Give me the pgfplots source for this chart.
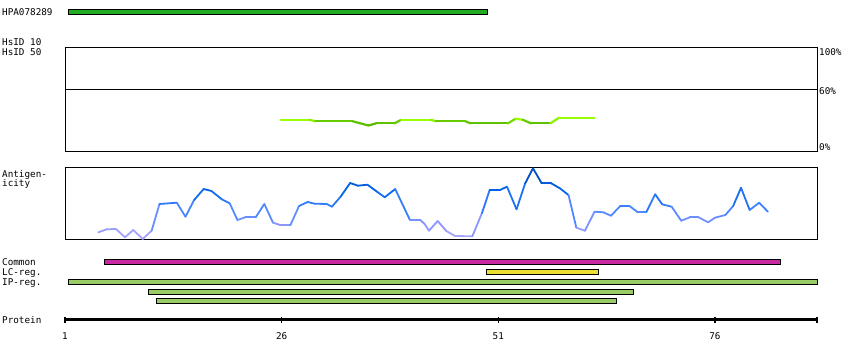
\documentclass[border=0pt]{standalone}
\usepackage{pgfplots}
\pgfplotsset{compat=1.18}
\usepackage{fontspec}
\setmainfont{DejaVu Sans Mono}
\newcommand\lbl{\fontsize{9.3bp}{11bp}\selectfont}
\definecolor{hpa}{RGB}{34,170,34}
\definecolor{common}{RGB}{200,40,160}
\definecolor{lcreg}{RGB}{238,221,51}
\definecolor{ipreg}{RGB}{153,204,102}
\pgfplotsset{
  colormap={hsid}{rgb255(25cm)=(85,180,0); rgb255(29.5cm)=(102,204,0); rgb255(30.5cm)=(153,255,0); rgb255(33cm)=(153,255,0)},
  colormap={antig}{rgb255(0cm)=(180,170,255); rgb255(15cm)=(140,150,255); rgb255(30cm)=(75,135,255); rgb255(50cm)=(0,100,235); rgb255(72cm)=(0,70,170)},
}
\begin{document}
\begin{tikzpicture}
\useasboundingbox (0bp,0bp) rectangle (850bp,360bp);
% ---------- main axis: bars and protein scale ----------
\begin{axis}[at={(65bp,0bp)}, anchor=south west, scale only axis,
  width=752bp, height=360bp, xmin=1, xmax=87.77, ymin=0, ymax=360,
  hide axis, clip=false]
  % HPA bar
  \addplot[fill=hpa, draw=black, line width=1bp] coordinates {(1.46,345.5)(49.7,345.5)(49.7,350.3)(1.46,350.3)} -- cycle;
  % Common
  \addplot[fill=common, draw=black, line width=1bp] coordinates {(5.5,95.7)(83.6,95.7)(83.6,100.5)(5.5,100.5)} -- cycle;
  % LC-reg
  \addplot[fill=lcreg, draw=black, line width=1bp] coordinates {(49.6,85.7)(62.6,85.7)(62.6,90.5)(49.6,90.5)} -- cycle;
  % IP-reg
  \addplot[fill=ipreg, draw=black, line width=1bp] coordinates {(1.46,75.7)(87.77,75.7)(87.77,80.5)(1.46,80.5)} -- cycle;
  \addplot[fill=ipreg, draw=black, line width=1bp] coordinates {(10.6,65.7)(66.6,65.7)(66.6,70.5)(10.6,70.5)} -- cycle;
  \addplot[fill=ipreg, draw=black, line width=1bp] coordinates {(11.6,56.2)(64.6,56.2)(64.6,61.0)(11.6,61.0)} -- cycle;
  % protein scale
  \addplot[black, line width=3bp] coordinates {(1,40)(87.77,40)};
  \addplot[black, line width=1.5bp, forget plot] coordinates {(1,37)(1,42.5)};
  \addplot[black, line width=1.5bp, forget plot] coordinates {(26,37)(26,42.5)};
  \addplot[black, line width=1.5bp, forget plot] coordinates {(51,37)(51,42.5)};
  \addplot[black, line width=1.5bp, forget plot] coordinates {(76,37)(76,42.5)};
  \addplot[black, line width=1.5bp, forget plot] coordinates {(87.77,37)(87.77,42.5)};
  \node[anchor=base, font=\lbl] at (axis cs:1,21) {1};
  \node[anchor=base, font=\lbl] at (axis cs:26,21) {26};
  \node[anchor=base, font=\lbl] at (axis cs:51,21) {51};
  \node[anchor=base, font=\lbl] at (axis cs:76,21) {76};
\end{axis}
% ---------- HsID panel ----------
\begin{axis}[at={(65bp,208bp)}, anchor=south west, scale only axis,
  width=752bp, height=104bp, xmin=1, xmax=87.77, ymin=0, ymax=100,
  ticks=none, axis line style={line width=1bp}, clip=false,
  colormap name=hsid, point meta min=25, point meta max=33]
  \addplot[black, line width=1bp] coordinates {(1,60)(87.77,60)};
  \addplot[mesh, point meta=y, line width=2.2bp, line cap=round] coordinates {
    (25.9,31)(29.2,31)(29.9,29.5)(34.2,29.5)(36.0,25.5)(36.9,27.5)(39.0,27.5)
    (39.8,31)(43.2,31)(43.8,29.5)(47.2,29.5)(47.8,27.5)(52.1,27.5)(53.0,32)
    (53.8,31)(54.8,27.5)(57.0,27.5)(58.0,33)(62.1,33)};
  \node[anchor=north west, font=\lbl, inner sep=0pt] at (axis cs:88.0,100) {100\%};
  \node[anchor=west, font=\lbl, inner sep=0pt] at (axis cs:88.0,59) {60\%};
  \node[anchor=south west, font=\lbl, inner sep=0pt] at (axis cs:88.0,1) {0\%};
\end{axis}
% ---------- Antigenicity panel ----------
\begin{axis}[at={(65bp,120bp)}, anchor=south west, scale only axis,
  width=752bp, height=72bp, xmin=1, xmax=87.77, ymin=0, ymax=72,
  ticks=none, axis line style={line width=1bp},
  colormap name=antig, point meta min=0, point meta max=72]
  \addplot[mesh, point meta=y, line width=1.8bp, line cap=round] coordinates {
    (4.85,7.7)(5.81,10.7)(6.88,11)(7.92,2.7)(8.88,10)(9.96,1)(11.0,9.3)(11.9,36)
    (13.9,37.3)(14.9,23.3)(15.9,40)(17.0,51)(17.9,49)(19.1,40.7)(20.0,36.7)(20.9,20)
    (21.8,22.7)(23.0,22.7)(24.0,36)(25.0,17.3)(25.9,14.7)(27.0,14.7)(28.0,34)(29.0,38)
    (29.8,36.3)(31.2,36)(31.8,33.3)(32.8,43.3)(33.9,57)(34.8,54.3)(35.9,55.3)(37.0,48.3)
    (37.9,42.7)(39.1,51)(40.8,20)(42.0,20)(42.5,16)(43.0,9.3)(44.0,19)(45.0,9)(46.0,4)
    (48.0,3.7)(49.1,26.7)(50.0,50)(51.2,50)(52.0,53.3)(53.1,30.7)(54.1,56.7)(55.0,71.7)
    (56.0,56.7)(57.1,56.7)(58.1,51.7)(59.1,45)(60.0,12.3)(61.0,9.3)(62.1,28.3)(63.1,27.7)
    (64.0,24.3)(65.1,34.3)(66.1,34.3)(67.0,28.3)(68.1,28.3)(69.1,45.7)(69.9,35.7)(71.0,33.3)
    (72.1,19.3)(73.1,22.7)(74.1,22.7)(75.2,17.7)(76.0,22.3)(77.2,25)(78.1,34)(79.0,52.3)
    (80.0,30)(81.1,37.3)(82.1,28.3)};
\end{axis}
% ---------- left labels ----------
\begin{scope}[every node/.style={anchor=base west, font=\lbl, inner sep=0pt}]
  \node at (2bp,344.5bp) {HPA078289};
  \node at (2bp,314.5bp) {HsID 10};
  \node at (2bp,304bp) {HsID 50};
  \node at (2bp,182.5bp) {Antigen-};
  \node at (2bp,173bp) {icity};
  \node at (2bp,94.5bp) {Common};
  \node at (2bp,84.5bp) {LC-reg.};
  \node at (2bp,74.5bp) {IP-reg.};
  \node at (2bp,36.5bp) {Protein};
\end{scope}
\end{tikzpicture}
\end{document}
